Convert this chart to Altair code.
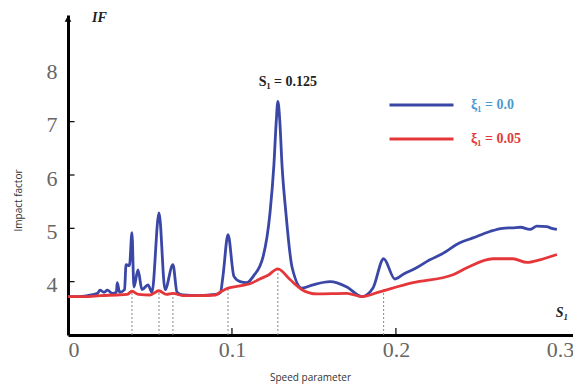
import altair as alt
import pandas as pd

# ---- data ----
blue_x = [0.000, 0.006, 0.012, 0.018, 0.0195, 0.022, 0.024, 0.027, 0.0295, 0.0300, 0.0315,
          0.0345, 0.0354, 0.0375, 0.0390, 0.0402, 0.0427, 0.0451, 0.0488, 0.0512, 0.0555,
          0.0592, 0.0640, 0.0665, 0.070, 0.080, 0.090, 0.093, 0.0945, 0.0976, 0.1012,
          0.105, 0.109, 0.113, 0.119, 0.1232, 0.1256, 0.1270, 0.1280, 0.1292, 0.1305,
          0.1329, 0.1366, 0.1427, 0.1494, 0.1598, 0.1701, 0.1793, 0.1860, 0.1925, 0.1994,
          0.205, 0.212, 0.2207, 0.228, 0.239, 0.247, 0.2573, 0.265, 0.2713, 0.276,
          0.2817, 0.286, 0.292, 0.295, 0.2982]
blue_y = [3.72, 3.72, 3.74, 3.78, 3.84, 3.80, 3.84, 3.78, 3.80, 3.98, 3.80,
          3.85, 4.32, 4.30, 4.92, 3.90, 4.22, 3.85, 3.94, 3.80, 5.29,
          3.85, 4.32, 3.80, 3.75, 3.74, 3.76, 3.80, 4.10, 4.88, 4.10,
          4.00, 3.98, 4.10, 4.47, 5.29, 6.20, 7.00, 7.38, 7.00, 6.20,
          5.29, 4.28, 3.88, 3.94, 4.00, 3.90, 3.72, 3.88, 4.43, 4.05,
          4.15, 4.25, 4.41, 4.52, 4.73, 4.82, 4.94, 5.00, 5.01, 5.02,
          4.98, 5.04, 5.03, 5.00, 4.98]

red_x = [0.000, 0.010, 0.020, 0.030, 0.036, 0.039, 0.043, 0.050, 0.0555, 0.060, 0.064,
         0.070, 0.080, 0.090, 0.0927, 0.0976, 0.105, 0.111, 0.117, 0.122, 0.128,
         0.1354, 0.1427, 0.1518, 0.1701, 0.1793, 0.190, 0.2104, 0.2348, 0.2433,
         0.2591, 0.2713, 0.2799, 0.2878, 0.2982]
red_y = [3.72, 3.72, 3.74, 3.75, 3.76, 3.82, 3.76, 3.75, 3.83, 3.76, 3.78,
         3.74, 3.74, 3.75, 3.80, 3.88, 3.92, 3.96, 4.05, 4.12, 4.24,
         4.04, 3.85, 3.77, 3.78, 3.72, 3.81, 3.98, 4.13, 4.26,
         4.43, 4.43, 4.36, 4.41, 4.51]

series_names = ["ξ₁ = 0.0", "ξ₁ = 0.05"]
series_colors = ["#3a47a6", "#e5363a"]

marker_x = [0.039, 0.0555, 0.064, 0.0976, 0.128, 0.1925]
marker_top = [3.82, 3.83, 3.78, 3.88, 4.24, 3.85]

ytick_vals = [4, 5, 6, 7]
xtick_vals = [0.1, 0.2]

ann_text = ["S₁ = 0.125", "IF", "S₁"]
ann_x = [0.1341, 0.0146, 0.2975]
ann_y = [7.75, 8.95, 3.42]

# ---- tables ----
lines_df = pd.DataFrame({
    "x": blue_x + red_x,
    "y": blue_y + red_y,
    "series": [series_names[0]] * len(blue_x) + [series_names[1]] * len(red_x),
})
markers_df = pd.DataFrame({"x": marker_x, "y0": [3.0] * len(marker_x), "y1": marker_top})
yt_df = pd.DataFrame({"y": ytick_vals, "x0": [0.0] * 4, "x1": [0.004] * 4})
xt_df = pd.DataFrame({"x": xtick_vals, "y0": [3.0] * 2, "y1": [3.13] * 2})
arrow_df = pd.DataFrame({"x": [0.0], "y": [8.93]})

xs = alt.Scale(domain=[0, 0.308], nice=False, zero=False)
ys = alt.Scale(domain=[3, 9], nice=False, zero=False)

xaxis = alt.Axis(
    values=[0, 0.1, 0.2, 0.3], format=".1~f", ticks=False, grid=False,
    domainColor="black", domainWidth=3, labelFont="Liberation Serif",
    labelFontSize=22, labelColor="#666", labelPadding=4,
    title="Speed parameter", titleFont="Open Sans", titleFontSize=10,
    titleFontWeight="normal", titleColor="#333", titleX=242, titleY=42,
    titleBaseline="middle")
yaxis = alt.Axis(
    values=[4, 5, 6, 7, 8], ticks=False, grid=False,
    domainColor="black", domainWidth=3, labelFont="Liberation Serif",
    labelFontSize=22, labelColor="#666", labelPadding=11, labelOffset=3,
    title="Impact factor", titleFont="Open Sans", titleFontSize=10,
    titleFontWeight="normal", titleColor="#333", titleX=-50, titleY=185,
    titleAngle=270, titleBaseline="middle", titleAlign="center")


def X(f):
    return alt.X(f, type="quantitative", scale=xs, axis=xaxis)


def Y(f):
    return alt.Y(f, type="quantitative", scale=ys, axis=yaxis)


lines = alt.Chart(lines_df).mark_line(strokeWidth=2.8, interpolate="monotone").encode(
    x=X("x"),
    y=Y("y"),
    color=alt.Color("series:N", scale=alt.Scale(domain=series_names, range=series_colors),
                    legend=alt.Legend(
                        title=None, orient="none", legendX=320, legendY=74,
                        symbolType="stroke", symbolSize=4096, symbolStrokeWidth=3,
                        labelFont="Liberation Serif", labelFontSize=14,
                        labelFontWeight="bold", labelOffset=16, padding=0,
                        clipHeight=32, rowPadding=2,
                        labelColor={"expr": "datum.value == 'ξ₁ = 0.0' ? '#4a9ad2' : '#e23a3a'"})),
    order="series:N",
)

markers = alt.Chart(markers_df).mark_rule(color="#888", strokeDash=[2, 2], strokeWidth=1).encode(
    x=X("x"), y=Y("y0"), y2="y1:Q",
)

yticks = alt.Chart(yt_df).mark_rule(color="black", strokeWidth=1.2).encode(
    x=X("x0"), x2="x1:Q", y=Y("y"),
)
xticks = alt.Chart(xt_df).mark_rule(color="black", strokeWidth=1.2).encode(
    x=X("x"), y=Y("y0"), y2="y1:Q",
)

arrow = alt.Chart(arrow_df).mark_point(shape="triangle-up", filled=True, color="black",
                                       size=45, opacity=1).encode(
    x=X("x"), y=Y("y"),
)

ann_df = pd.DataFrame({"t": ann_text[:1], "x": ann_x[:1], "y": ann_y[:1]})
ann_if = pd.DataFrame({"t": ann_text[1:], "x": ann_x[1:], "y": ann_y[1:]})

ann1 = alt.Chart(ann_df).mark_text(font="Liberation Serif", fontSize=14, fontWeight="bold",
                                   color="#222", align="center", baseline="middle").encode(
    x=X("x"), y=Y("y"), text="t:N",
)
ann2 = alt.Chart(ann_if).mark_text(font="Liberation Serif", fontSize=14, fontWeight="bold",
                                   fontStyle="italic", color="#222", align="left",
                                   baseline="middle").encode(
    x=X("x"), y=Y("y"), text="t:N",
)

chart = alt.layer(markers, lines, yticks, xticks, arrow, ann1, ann2).properties(
    width=505, height=320,
    padding={"left": 60, "top": 7, "right": 0, "bottom": 50},
    autosize=alt.AutoSizeParams(type="none"),
).configure_view(stroke=None)

chart.save("out.html", embed_options={"renderer": "svg", "actions": False})
